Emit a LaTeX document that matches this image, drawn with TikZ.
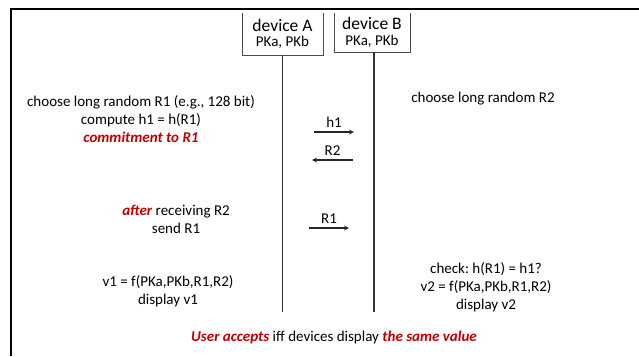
\documentclass[tikz,border=0pt]{standalone}
\usepackage{fontspec}
\setmainfont{Carlito}
\usepackage{tikz}
\definecolor{hired}{RGB}{192,0,0}
\newcommand{\hi}[1]{\textcolor{hired}{\textbf{\textit{#1}}}}
\frenchspacing

\begin{document}
\begin{tikzpicture}[x=0.03cm,y=-0.03cm,font=\fontsize{12.8}{15.3}\selectfont,
  dev/.style={minimum width=#1,inner sep=0pt,align=center},
  msg/.style={->,>=stealth,line width=0.9pt,black!85},
  life/.style={line width=1.2pt,black!80}]
  \useasboundingbox (0,0) rectangle (639,356);
  % frame
  \draw[line width=1.5pt] (11,356) -- (11,9) -- (639,9);
  % the two devices, open at the top
  \node[dev=81*0.03cm,minimum height=42*0.03cm] (devA) at (282.5,34) {{\fontsize{15}{17}\selectfont device A}\\[-2pt] PKa, PKb};
  \node[dev=76*0.03cm,minimum height=39*0.03cm] (devB) at (372,32.5) {{\fontsize{15}{17}\selectfont device B}\\[-2pt] PKa, PKb};
  \draw[black!70] (devA.north west) -- (devA.south west) -- (devA.south east) -- (devA.north east);
  \draw[black!70] (devB.north west) -- (devB.south west) -- (devB.south east) -- (devB.north east);
  \coordinate (endA) at (282.5,312); \coordinate (endB) at (374,312);
  \draw[life] (devA.south) -- (endA); \draw[life] (devB.south -| endB) -- (endB);
  % device A side
  \node[align=center] (chooseA) at (141,119) {choose long random R1 (e.g., 128 bit)\\ compute h1 = h(R1)\\ \hi{commitment to R1}};
  \node[align=center] (sendA) at (176,219.5) {\hi{after} receiving R2\\ send R1};
  \node[align=center] (showA) at (168,291.5) {v1 = f(PKa,PKb,R1,R2)\\ display v1};
  % device B side
  \node (chooseB) at (483,99) {choose long random R2};
  \node[align=center] (showB) at (486,287) {check: h(R1) = h1?\\ v2 = f(PKa,PKb,R1,R2)\\ display v2};
  % messages
  \coordinate (h1a) at (314,132); \coordinate (h1b) at (354,132);
  \coordinate (r2a) at (353,160); \coordinate (r2b) at (312,160);
  \coordinate (r1a) at (309,228); \coordinate (r1b) at (349,228);
  \draw[msg] (h1a) -- node[above,black] {h1} (h1b);
  \draw[msg] (r2a) -- node[above,black] {R2} (r2b);
  \draw[msg] (r1a) -- node[above,black] {R1} (r1b);
  % outcome
  \node (accept) at (334,337) {\hi{User accepts} iff devices display \hi{the same value}};
\end{tikzpicture}
\end{document}
